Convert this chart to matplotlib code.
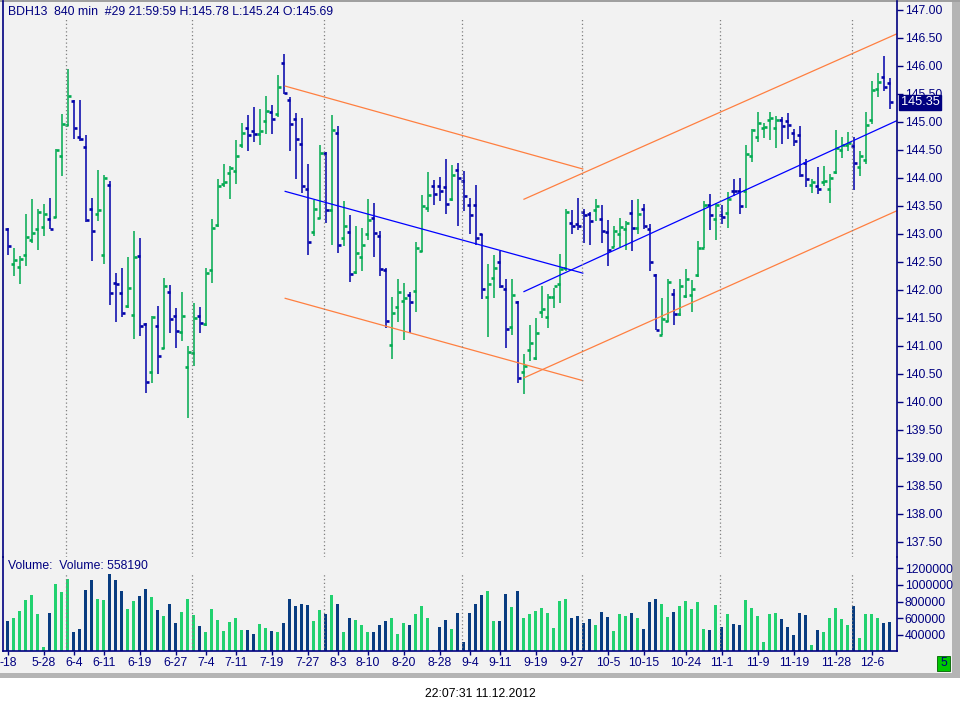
import numpy as np
import matplotlib.pyplot as plt
from matplotlib.patches import Rectangle

plt.rcParams['font.family'] = ['Liberation Sans', 'DejaVu Sans']

# OHLC of the 148 bars (840 min)
opens = [143.08, 142.47, 142.41, 142.63, 142.90, 143.08, 143.13, 143.27, 143.31, 144.40,
         144.94, 145.37, 144.74, 144.56, 143.45, 143.36, 142.63, 143.88, 142.13, 141.95,
         141.72, 141.56, 142.61, 141.39, 140.54, 141.36, 140.97, 141.97, 141.54, 141.25,
         140.62, 140.87, 141.54, 141.39, 142.36, 143.16, 143.90, 144.09, 144.13, 144.58,
         144.90, 144.83, 144.78, 145.01, 145.17, 145.15, 146.05, 145.40, 145.06, 144.61,
         143.81, 143.04, 143.29, 144.45, 143.42, 144.81, 142.92, 143.04, 142.32, 142.59,
         143.00, 143.29, 142.97, 142.35, 141.02, 141.70, 141.81, 141.91, 141.98, 142.70,
         143.47, 143.85, 143.86, 143.83, 143.63, 144.15, 143.95, 143.52, 143.52, 142.99,
         141.88, 142.22, 142.50, 142.02, 141.34, 141.79, 140.54, 140.93, 140.79, 141.61,
         141.52, 141.88, 142.11, 142.40, 143.20, 143.17, 143.40, 143.35, 143.43, 143.27,
         143.03, 142.77, 142.99, 143.09, 143.38, 143.11, 143.45, 143.08, 142.26, 141.20,
         141.45, 141.93, 141.57, 141.90, 141.91, 142.27, 142.75, 143.52, 143.27, 143.33,
         143.38, 143.77, 143.76, 143.77, 144.40, 144.74, 144.90, 145.03, 144.90, 145.03,
         145.02, 144.81, 144.76, 144.27, 143.88, 143.85, 143.93, 143.81, 144.10, 144.49,
         144.58, 144.57, 144.19, 144.32, 145.03, 145.59, 145.80, 145.69]
highs = [143.11, 142.75, 142.61, 143.35, 143.62, 143.45, 143.53, 143.64, 144.51, 145.14,
         145.94, 145.39, 145.39, 144.76, 143.65, 144.14, 144.05, 143.94, 142.31, 142.40,
         142.59, 143.06, 142.92, 141.41, 141.53, 141.71, 142.22, 142.08, 141.68, 141.97,
         141.00, 141.76, 141.70, 142.40, 143.26, 143.98, 144.24, 144.22, 144.67, 144.98,
         145.12, 145.26, 145.23, 145.46, 145.30, 145.84, 146.21, 145.44, 145.16, 145.07,
         144.24, 143.61, 144.58, 144.47, 145.12, 144.92, 143.59, 143.33, 143.15, 143.11,
         143.62, 143.55, 143.05, 142.40, 141.87, 142.19, 142.13, 141.96, 142.86, 143.69,
         144.10, 143.96, 144.02, 144.33, 144.23, 144.27, 144.12, 143.65, 143.87, 143.00,
         142.47, 142.63, 142.69, 142.20, 142.19, 141.80, 140.86, 141.38, 141.50, 142.07,
         141.92, 142.04, 142.65, 143.44, 143.43, 143.65, 143.45, 143.40, 143.62, 143.51,
         143.24, 143.15, 143.28, 143.23, 143.60, 143.62, 143.54, 143.17, 142.29, 141.85,
         142.20, 142.01, 142.20, 142.37, 142.17, 142.87, 143.58, 143.71, 143.56, 143.52,
         143.74, 143.98, 143.99, 144.59, 144.87, 145.18, 144.99, 145.18, 145.11, 145.08,
         145.16, 144.88, 144.92, 144.33, 143.98, 144.20, 144.22, 144.07, 144.86, 144.73,
         144.82, 144.74, 144.48, 145.18, 145.74, 145.87, 146.17, 145.78]
lows = [142.62, 142.25, 142.10, 142.43, 142.84, 142.71, 142.96, 143.08, 143.29, 144.04,
        144.92, 144.69, 144.66, 143.21, 142.52, 143.23, 142.47, 141.73, 141.42, 141.51,
        141.67, 141.12, 141.17, 140.16, 140.34, 140.49, 140.94, 141.23, 140.97, 141.08,
        139.71, 140.65, 141.23, 141.35, 142.13, 143.12, 143.83, 143.62, 143.90, 144.53,
        144.48, 144.64, 144.59, 144.78, 144.78, 145.09, 145.50, 144.48, 143.98, 143.73,
        142.62, 142.96, 143.26, 143.20, 142.80, 142.66, 142.78, 142.14, 142.28, 142.34,
        142.90, 142.59, 142.25, 141.32, 140.76, 141.42, 141.11, 141.23, 141.60, 142.68,
        143.39, 143.51, 143.59, 143.35, 143.59, 143.14, 143.41, 142.99, 142.81, 141.83,
        141.16, 141.86, 142.04, 140.97, 141.20, 140.33, 140.15, 140.73, 140.74, 141.50,
        141.32, 141.67, 141.76, 142.34, 142.99, 143.07, 142.83, 142.81, 143.23, 142.83,
        142.43, 142.76, 142.76, 142.71, 142.69, 142.99, 143.09, 142.34, 141.28, 141.20,
        141.42, 141.38, 141.54, 141.86, 141.60, 142.23, 142.74, 143.07, 142.89, 143.17,
        143.10, 143.68, 143.36, 143.47, 144.29, 144.64, 144.72, 144.68, 144.53, 144.60,
        144.69, 144.57, 144.02, 143.84, 143.73, 143.71, 143.86, 143.55, 144.07, 144.35,
        144.48, 143.78, 144.04, 144.24, 144.96, 145.44, 145.56, 145.24]
closes = [142.79, 142.53, 142.56, 142.95, 143.02, 143.40, 143.36, 143.09, 144.49, 144.97,
          145.47, 144.90, 144.69, 143.25, 143.06, 143.43, 143.99, 141.95, 142.11, 141.59,
          142.04, 142.59, 141.35, 140.36, 141.52, 140.82, 142.07, 141.48, 141.27, 141.54,
          140.89, 141.50, 141.41, 142.31, 143.11, 143.85, 143.93, 144.17, 144.40, 144.81,
          144.76, 144.79, 144.83, 145.20, 145.06, 145.63, 145.51, 144.97, 144.69, 143.85,
          142.86, 143.45, 144.45, 143.43, 144.85, 142.81, 143.15, 142.29, 142.66, 142.81,
          143.24, 143.02, 142.38, 141.45, 141.59, 141.97, 141.86, 141.79, 142.74, 143.49,
          143.70, 143.72, 143.77, 143.54, 144.06, 143.99, 143.68, 143.33, 142.93, 142.02,
          142.11, 142.40, 142.07, 141.30, 141.91, 140.43, 140.64, 141.05, 141.23, 141.66,
          141.87, 142.07, 142.38, 143.40, 143.15, 143.15, 143.33, 143.23, 143.49, 143.06,
          142.72, 143.06, 143.13, 143.19, 143.11, 143.36, 143.15, 142.49, 141.29, 141.48,
          142.15, 141.57, 142.07, 142.20, 142.02, 142.74, 143.51, 143.33, 143.52, 143.31,
          143.63, 143.76, 143.49, 144.42, 144.85, 144.99, 144.91, 145.07, 145.03, 144.92,
          144.94, 144.66, 144.05, 143.98, 143.92, 143.81, 143.95, 143.99, 144.53, 144.58,
          144.62, 144.27, 144.40, 144.94, 145.57, 145.71, 145.63, 145.35]
volumes = [560000, 596000, 680000, 824000, 884000, 644000, 248000, 656000, 1016000, 920000,
           1076000, 428000, 464000, 944000, 1064000, 836000, 824000, 1136000, 1064000, 932000,
           704000, 812000, 872000, 956000, 860000, 692000, 620000, 776000, 536000, 668000,
           836000, 632000, 500000, 428000, 704000, 572000, 440000, 548000, 596000, 452000,
           452000, 404000, 524000, 476000, 440000, 428000, 536000, 836000, 740000, 764000,
           752000, 560000, 692000, 644000, 884000, 764000, 428000, 596000, 572000, 512000,
           428000, 428000, 512000, 560000, 596000, 404000, 536000, 512000, 644000, 740000,
           596000, 212000, 488000, 572000, 464000, 656000, 308000, 656000, 764000, 884000,
           932000, 560000, 560000, 896000, 728000, 932000, 596000, 644000, 680000, 716000,
           656000, 476000, 812000, 836000, 596000, 620000, 536000, 584000, 512000, 668000,
           608000, 440000, 644000, 620000, 656000, 596000, 464000, 800000, 836000, 776000,
           608000, 668000, 740000, 812000, 704000, 800000, 464000, 452000, 752000, 488000,
           644000, 524000, 512000, 824000, 716000, 620000, 308000, 644000, 656000, 584000,
           488000, 392000, 656000, 632000, 272000, 452000, 428000, 596000, 716000, 584000,
           512000, 740000, 356000, 644000, 644000, 596000, 536000, 558190]

date_labels = ['-18', '5-28', '6-4', '6-11', '6-19', '6-27', '7-4', '7-11', '7-19', '7-27',
               '8-3', '8-10', '8-20', '8-28', '9-4', '9-11', '9-19', '9-27', '10-5', '10-15',
               '10-24', '11-1', '11-9', '11-19', '11-28', '12-6']
date_bars = [0, 6, 11, 16, 22, 28, 33, 38, 44, 50, 55, 60, 66, 72, 77, 82, 88, 94, 100, 106,
             113, 119, 125, 131, 138, 144]
month_start_bars = [10, 31, 53, 76, 96, 119, 141]

# hand drawn channels: (bar index, price) end points
down_mid = [(46.2, 143.76), (95.8, 142.30)]
down_upper = [(46.2, 145.64), (95.8, 144.16)]
down_lower = [(46.2, 141.85), (95.8, 140.38)]
up_mid = [(86.0, 141.97), (148.7, 145.05)]
up_upper = [(86.0, 143.62), (148.7, 146.60)]
up_lower = [(86.0, 140.43), (148.7, 143.44)]

navy = '#000080'
bar_green = '#00aa50'
bar_blue = '#0000aa'
vol_green = '#21d16f'
vol_blue = '#083c80'
orange = '#ff7f40'
fs = 8.8

o = np.array(opens)
h = np.array(highs)
l = np.array(lows)
c = np.array(closes)
v = np.array(volumes)
idx = np.arange(len(o))
up = c >= o
pcol = np.where(up, bar_green, bar_blue)
vcol = np.where(up, vol_green, vol_blue)

W, H = 960, 713
fig = plt.figure(figsize=(9.6, 7.13), dpi=100)
fig.patch.set_facecolor('white')

# window background and frame (kept behind the axes)
def frame_rect(x, y, w, hh, col, z=-5, **kw):
    fig.patches.append(Rectangle((x / W, y / H), w / W, hh / H, transform=fig.transFigure,
                                 facecolor=col, zorder=z, **kw))

frame_rect(0, 40, 952, H - 40, '#f2f2f2', edgecolor='none')
frame_rect(952, 35, 8, H - 35, '#b4b4b4', edgecolor='none')
frame_rect(0, 35, W, 5, '#b4b4b4', edgecolor='none')
frame_rect(0, H - 1.5, W, 1.5, '#a0a0a0', edgecolor='none')

ax = fig.add_axes([3 / W, 156 / H, 894 / W, 556 / H])
axv = fig.add_axes([3 / W, 62 / H, 894 / W, 94 / H], sharex=ax)
for a in (ax, axv):
    a.set_facecolor('none')
    a.set_zorder(1)
    for s in a.spines.values():
        s.set_color(navy)
        s.set_linewidth(1.2)
    a.spines['top'].set_visible(False)
ax.spines['bottom'].set_visible(False)

# price bars
ax.vlines(idx, l, h, colors=pcol, lw=1.1)
ax.hlines(o, idx - 0.42, idx, colors=pcol, lw=1.9)
ax.hlines(c, idx, idx + 0.42, colors=pcol, lw=1.9)

# channels
for line, col in [(down_mid, 'blue'), (down_upper, orange), (down_lower, orange),
                  (up_mid, 'blue'), (up_upper, orange), (up_lower, orange)]:
    xs, ys = zip(*line)
    ax.plot(xs, ys, color=col, lw=0.9)

ymin, ymax = 137.23, 147.16
ax.vlines(np.array(month_start_bars) - 0.3, ymin, 146.84, colors='#808080',
          linestyles=(0, (1, 2)), lw=0.9)
ax.set_xlim(-0.83, 148.17)
ax.set_ylim(ymin, ymax)
ax.yaxis.tick_right()
ax.set_yticks(np.arange(137.5, 147.01, 0.5))
ax.set_yticklabels([f'{t:.2f}' for t in np.arange(137.5, 147.01, 0.5)])
ax.tick_params(axis='y', direction='out', length=4, width=1, color=navy,
               labelcolor=navy, labelsize=fs, pad=1.5)
ax.tick_params(axis='x', bottom=False, labelbottom=False)

ax.text(1.004, c[-1], f'{c[-1]:.2f}', transform=ax.get_yaxis_transform(),
        ha='left', va='center', color='white', fontsize=fs + 0.4, zorder=10, clip_on=False,
        bbox=dict(boxstyle='square,pad=0.12', fc=navy, ec=navy))

# volume
vbase = 205000
axv.bar(idx, v - vbase, bottom=vbase, width=0.5, color=vcol)
axv.vlines(np.array(month_start_bars) - 0.3, vbase, 1140000, colors='#808080',
           linestyles=(0, (1, 2)), lw=0.9)
axv.set_ylim(vbase, 1335000)
axv.yaxis.tick_right()
vt = np.arange(400000, 1200001, 200000)
axv.set_yticks(vt)
axv.set_yticklabels([str(t) for t in vt])
axv.tick_params(axis='y', direction='out', length=4, width=1, color=navy,
                labelcolor=navy, labelsize=fs, pad=1.5)
axv.set_xticks(date_bars)
axv.set_xticklabels(date_labels)
axv.tick_params(axis='x', direction='out', length=3, width=1, color=navy,
                labelcolor=navy, labelsize=fs, pad=1.5)

header = (f'BDH13  840 min  #29 21:59:59 H:{h[-1]:.2f} L:{l[-1]:.2f} O:{o[-1]:.2f}')
fig.text(8 / W, 1 - 12 / H, header, ha='left', va='center', color=navy, fontsize=fs)
fig.text(8 / W, 1 - 566 / H, f'Volume:  Volume: {v[-1]}', ha='left', va='center',
         color=navy, fontsize=fs)
fig.text(0.5, 1 - 694 / H, '22:07:31 11.12.2012', ha='center', va='center',
         color='black', fontsize=fs)

frame_rect(937, 42, 13, 15, '#00c800', z=2, edgecolor='#006000', lw=0.6)
fig.text(943.5 / W, 1 - 663.5 / H, '5', ha='center', va='center', color=navy, fontsize=fs)

fig.savefig('out.png', dpi=100)
